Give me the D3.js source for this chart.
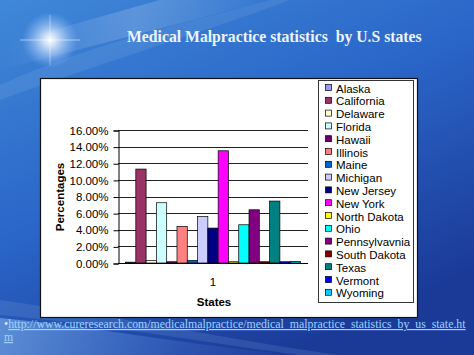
<!DOCTYPE html>
<html><head><meta charset="utf-8">
<script src="https://cdn.jsdelivr.net/npm/d3@7"></script>
<style>body{margin:0;overflow:hidden;background:#2a62c4} text{white-space:pre}</style>
</head><body>
<script>
const categories = ["1"];
const states = ["Alaska","California","Delaware","Florida","Hawaii","Illinois","Maine","Michigan","New Jersey","New York","North Dakota","Ohio","Pennsylvavnia","South Dakota","Texas","Vermont","Wyoming"];
const values = [0.1, 11.3, 0.3, 7.25, 0.15, 4.4, 0.3, 5.6, 4.2, 13.5, 0.15, 4.6, 6.4, 0.15, 7.45, 0.15, 0.2];
const colors = ["#9999FF","#993366","#FFFFCC","#CCFFFF","#660066","#FF8080","#0066CC","#CCCCFF","#000080","#FF00FF","#FFFF00","#00FFFF","#800080","#800000","#008080","#0000FF","#00CCFF"];
const yTicks = [0,2,4,6,8,10,12,14,16];
const title = "Medical Malpractice statistics  by U.S states";
const link1 = "http://www.cureresearch.com/medicalmalpractice/medical_malpractice_statistics_by_us_state.ht";
const link2 = "m";

const W = 474, H = 355;
const svg = d3.select("body").append("svg").attr("width", W).attr("height", H);
const defs = svg.append("defs");

// background
const bg = defs.append("linearGradient").attr("id","bg").attr("x1","0").attr("y1","0").attr("x2","0.6").attr("y2","1");
bg.append("stop").attr("offset","0").attr("stop-color","#4088d8");
bg.append("stop").attr("offset","0.5").attr("stop-color","#2a66c8");
bg.append("stop").attr("offset","1").attr("stop-color","#1b3a98");
svg.append("rect").attr("width",W).attr("height",H).attr("fill","url(#bg)");

const streak = defs.append("linearGradient").attr("id","streak").attr("x1","0").attr("y1","0").attr("x2","1").attr("y2","0");
streak.append("stop").attr("offset","0").attr("stop-color","#ffffff").attr("stop-opacity","0");
streak.append("stop").attr("offset","0.5").attr("stop-color","#ffffff").attr("stop-opacity","0.18");
streak.append("stop").attr("offset","1").attr("stop-color","#ffffff").attr("stop-opacity","0");
svg.append("path").attr("d","M0,70 L270,0 L160,0 L0,45 Z").attr("fill","url(#streak)");
svg.append("path").attr("d","M0,85 C100,40 200,20 270,0 L290,0 C210,30 110,60 0,100 Z").attr("fill","#ffffff").attr("opacity",0.08);

const glow = defs.append("radialGradient").attr("id","glow");
glow.append("stop").attr("offset","0").attr("stop-color","#ffffff").attr("stop-opacity","1");
glow.append("stop").attr("offset","0.25").attr("stop-color","#e8f2ff").attr("stop-opacity","0.8");
glow.append("stop").attr("offset","1").attr("stop-color","#9cc8ff").attr("stop-opacity","0");
svg.append("circle").attr("cx",50).attr("cy",40).attr("r",28).attr("fill","url(#glow)");
svg.append("line").attr("x1",20).attr("y1",40).attr("x2",80).attr("y2",40).attr("stroke","#fff").attr("stroke-opacity",0.5);
svg.append("line").attr("x1",50).attr("y1",15).attr("x2",50).attr("y2",65).attr("stroke","#fff").attr("stroke-opacity",0.4);

const wave = defs.append("linearGradient").attr("id","wave").attr("x1","0").attr("y1","0").attr("x2","1").attr("y2","0");
wave.append("stop").attr("offset","0").attr("stop-color","#9fd0ff").attr("stop-opacity","0.45");
wave.append("stop").attr("offset","0.6").attr("stop-color","#7fb8ff").attr("stop-opacity","0.15");
wave.append("stop").attr("offset","1").attr("stop-color","#7fb8ff").attr("stop-opacity","0");
svg.append("path").attr("d","M0,318 C120,330 220,350 300,355 L0,355 Z").attr("fill","url(#wave)");
svg.append("path").attr("d","M0,300 C140,320 260,345 340,355 L300,355 C220,345 110,325 0,315 Z").attr("fill","#bfe0ff").attr("opacity",0.12);

function fitFont(sel, base, target){
  const w = sel.node().getComputedTextLength();
  sel.attr("font-size", base * target / w);
}

// title
const tt = svg.append("text").attr("x",127).attr("y",42).attr("xml:space","preserve")
  .attr("font-family","Liberation Serif, Times New Roman, serif").attr("font-weight","bold")
  .attr("font-size",16).attr("fill","#eef4ff").text(title);
fitFont(tt, 16, 295);

// chart box
svg.append("rect").attr("x",40.5).attr("y",78.5).attr("width",377).attr("height",239)
  .attr("fill","#ffffff").attr("stroke","#111").attr("stroke-width",1.2);

const font = "Liberation Sans, Arial, sans-serif";
const plot = {l:118, r:308, t:130, b:263};
const y = d3.scaleLinear().domain([0,16]).range([plot.b, plot.t]);
const x0 = d3.scaleBand().domain(categories).range([plot.l, plot.r]).paddingInner(0).paddingOuter(0.043);
const x1 = d3.scaleBand().domain(states).range([0, x0.bandwidth()]).padding(0);

// gridlines
const g = svg.append("g");
g.selectAll("line.grid").data(yTicks.filter(d=>d>0)).join("line")
  .attr("x1",plot.l).attr("x2",plot.r).attr("y1",d=>Math.round(y(d))+0.5).attr("y2",d=>Math.round(y(d))+0.5)
  .attr("stroke","#222").attr("stroke-width",1);

// bars
categories.forEach(c=>{
  g.selectAll("rect.bar").data(states).join("rect").attr("class","bar")
    .attr("x",s=>x0(c)+x1(s)).attr("width",x1.bandwidth())
    .attr("y",(s,i)=>y(values[i])).attr("height",(s,i)=>plot.b-y(values[i]))
    .attr("fill",(s,i)=>colors[i]).attr("stroke","#000").attr("stroke-width",0.7);
});

// y axis
const yAxis = d3.axisLeft(y).tickValues(yTicks).tickFormat(d=>d.toFixed(2)+"%").tickSize(5).tickPadding(5);
const ya = svg.append("g").attr("transform",`translate(${plot.l+0.5},0.5)`).call(yAxis);
ya.select(".domain").attr("stroke","#000");
ya.selectAll(".tick line").attr("stroke","#000");
ya.selectAll("text").attr("font-family",font).attr("font-size",11.5).attr("fill","#000");

// x axis
const xAxis = d3.axisBottom(x0).tickSize(0).tickPadding(14);
const xa = svg.append("g").attr("transform",`translate(0,${plot.b+0.5})`).call(xAxis);
xa.select(".domain").attr("stroke","#000").attr("d",`M${plot.l},0H${plot.r}`);
xa.selectAll("text").attr("font-family",font).attr("font-size",11.5).attr("fill","#000");

svg.append("text").attr("x",214).attr("y",306).attr("text-anchor","middle")
  .attr("font-family",font).attr("font-weight","bold").attr("font-size",11.5).text("States");
svg.append("text").attr("transform","translate(64,197) rotate(-90)").attr("text-anchor","middle")
  .attr("font-family",font).attr("font-weight","bold").attr("font-size",11.5).text("Percentages");

// legend
svg.append("rect").attr("x",318.5).attr("y",80.5).attr("width",95).attr("height",222)
  .attr("fill","#fff").attr("stroke","#333").attr("stroke-width",1);
const leg = svg.append("g").selectAll("g").data(states).join("g")
  .attr("transform",(d,i)=>`translate(325,${88+i*12.8})`);
leg.append("rect").attr("x",0.5).attr("y",-3.5).attr("width",6).attr("height",6)
  .attr("fill",(d,i)=>colors[i]).attr("stroke","#000").attr("stroke-width",0.7);
leg.append("text").attr("x",11).attr("y",4.5).attr("font-family",font).attr("font-size",11.5).attr("fill","#000").text(d=>d);

// link
const lf = "Liberation Serif, Times New Roman, serif";
const lt = svg.append("text").attr("x",4).attr("y",328).attr("font-family",lf).attr("font-size",12);
lt.append("tspan").attr("fill","#dde8ff").text("•");
lt.append("tspan").attr("fill","#9fd4ff").attr("text-decoration","underline").text(link1);
fitFont(lt, 12, 462);
svg.append("text").attr("x",4).attr("y",341).attr("font-family",lf).attr("font-size",lt.attr("font-size"))
  .attr("fill","#9fd4ff").attr("text-decoration","underline").text(link2);
</script>
</body></html>
